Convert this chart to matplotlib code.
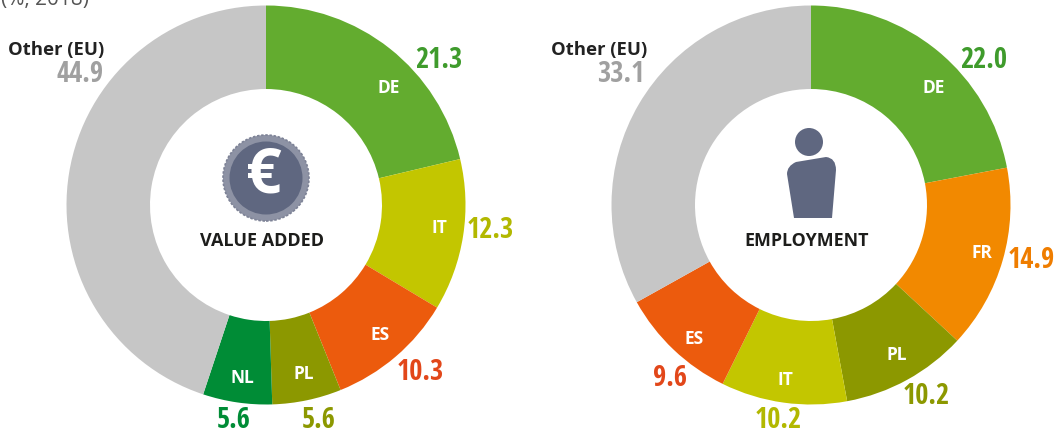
import matplotlib
matplotlib.use("Agg")
import matplotlib.pyplot as plt
from matplotlib.patches import Circle, PathPatch
from matplotlib.path import Path

# valores (%, 2018)
paises_va = ["DE", "IT", "ES", "PL", "NL", "Other (EU)"]
valores_va = [21.3, 12.3, 10.3, 5.6, 5.6, 44.9]
paises_emp = ["DE", "FR", "PL", "IT", "ES", "Other (EU)"]
valores_emp = [22.0, 14.9, 10.2, 10.2, 9.6, 33.1]

colores = {"DE": "#63ac2f", "IT": "#c3c600", "ES": "#ec5b0d", "PL": "#8c9800",
           "NL": "#008c36", "FR": "#f28900", "Other (EU)": "#c6c6c6"}
colores_num = {"DE": "#3f9b2c", "IT": "#b2b800", "ES": "#e2471a", "PL": "#8c9800",
               "NL": "#008c36", "FR": "#ef7d00", "Other (EU)": "#a0a0a0"}

ANGOSTA = ["Open Sans Condensed", "Roboto Condensed"]
BOLD = ["Open Sans", "DejaVu Sans"]
GRIS_ICONO = "#5f6780"

W, H = 1060, 434
fig = plt.figure(figsize=(W / 100, H / 100), dpi=100)
ax = fig.add_axes([0, 0, 1, 1])


def dibujar_donut(cx, cy, paises, valores, pos_pais, pos_num):
    ax.pie(valores, colors=[colores[p] for p in paises], startangle=90, counterclock=False,
           center=(cx, H - cy), radius=199.5, wedgeprops=dict(width=83.5, linewidth=0), frame=True)
    for p, v in zip(paises, valores):
        if p in pos_pais:
            x, y = pos_pais[p]
            ax.text(x, H - y, p, color="white", fontsize=12.5, fontweight="bold",
                    family=BOLD, ha="center", va="center")
        x, y = pos_num[p]
        ha = "right" if p == "Other (EU)" else "center"
        ax.text(x, H - y, f"{v:.1f}", color=colores_num[p], fontsize=20.5, fontweight="bold",
                family=ANGOSTA, ha=ha, va="center")


dibujar_donut(266, 205, paises_va, valores_va,
              {"DE": (389, 88), "IT": (439, 228), "ES": (380, 335), "PL": (304, 374), "NL": (242, 378)},
              {"DE": (439, 60), "IT": (490, 230), "ES": (420, 372), "PL": (319, 420),
               "NL": (234, 420), "Other (EU)": (104, 75)})
dibujar_donut(811, 205, paises_emp, valores_emp,
              {"DE": (934, 88), "FR": (982, 253), "PL": (897, 355), "IT": (785, 380), "ES": (694, 339)},
              {"DE": (984, 60), "FR": (1031, 260), "PL": (926, 397), "IT": (778, 420),
               "ES": (670, 379), "Other (EU)": (644, 75)})

ax.set_xlim(0, W)
ax.set_ylim(0, H)
ax.set_aspect("equal")
ax.axis("off")

# etiqueta Other (EU)
ax.text(104, H - 49.5, "Other (EU)", color="#222222", fontsize=13.3, fontweight="bold",
        family=BOLD, ha="right", va="center")
ax.text(647, H - 49.5, "Other (EU)", color="#222222", fontsize=13.3, fontweight="bold",
        family=BOLD, ha="right", va="center")

# subtitulo cortado arriba, igual que en el original
ax.text(1, H + 1, "(%, 2018)", color="#555555", fontsize=15, family=BOLD, ha="left", va="center")

# moneda
ax.add_patch(Circle((266, H - 178), 43, facecolor="#8d92a4", edgecolor="#7d8296", lw=1.2, ls=(0, (1.5, 1))))
ax.add_patch(Circle((266, H - 178), 36.5, facecolor=GRIS_ICONO, edgecolor="none"))
ax.text(264, H - 176, "€", color="white", fontsize=45, fontweight="bold", family=BOLD, ha="center", va="center")
ax.text(262, H - 241, "VALUE ADDED", color="#1d1d1b", fontsize=13, fontweight="bold",
        family=BOLD, ha="center", va="center")

# persona
ax.add_patch(Circle((809, H - 142), 14, facecolor=GRIS_ICONO, edgecolor="none"))
ptos = [(794, 218), (787, 174), (787, 166), (796, 162), (826, 157), (836, 158), (836, 170), (832, 218), (794, 218)]
cods = [Path.MOVETO, Path.LINETO, Path.CURVE3, Path.CURVE3, Path.LINETO, Path.CURVE3, Path.CURVE3, Path.LINETO, Path.CLOSEPOLY]
ax.add_patch(PathPatch(Path([(x, H - y) for x, y in ptos], cods), facecolor=GRIS_ICONO, edgecolor="none"))
ax.text(807, H - 241, "EMPLOYMENT", color="#1d1d1b", fontsize=12.8, fontweight="bold",
        family=BOLD, ha="center", va="center")

fig.savefig("out.png", dpi=100)
